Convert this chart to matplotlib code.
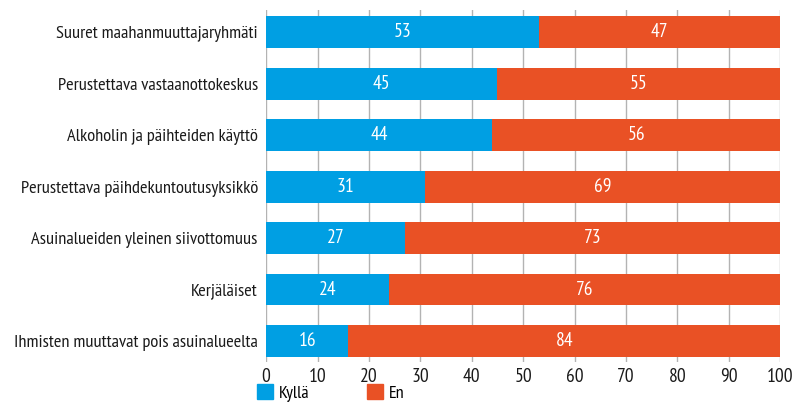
import numpy as np
import matplotlib.pyplot as plt
from matplotlib.patches import Patch

categories = ["Suuret maahanmuuttajaryhmäti",
              "Perustettava vastaanottokeskus",
              "Alkoholin ja päihteiden käyttö",
              "Perustettava päihdekuntoutusyksikkö",
              "Asuinalueiden yleinen siivottomuus",
              "Kerjäläiset",
              "Ihmisten muuttavat pois asuinalueelta"]
kylla = [53, 45, 44, 31, 27, 24, 16]
en = [47, 55, 56, 69, 73, 76, 84]
series_names = ["Kyllä", "En"]
xticks = [0, 10, 20, 30, 40, 50, 60, 70, 80, 90, 100]

blue = "#009fe3"
orange = "#e95125"
txt = "#1a1a1a"

plt.rcParams['font.family'] = ['PT Sans Narrow', 'DejaVu Sans']

fig = plt.figure(figsize=(7.92, 4.05), dpi=100)
ax = fig.add_axes([0.336, 0.106, 0.649, 0.869])

y = np.arange(len(categories))
h = 0.62
ax.barh(y, kylla, height=h, color=blue, zorder=3)
ax.barh(y, en, left=kylla, height=h, color=orange, zorder=3)

# valkoiset arvot palkkien keskelle
for i in range(len(categories)):
    ax.text(kylla[i] / 2, y[i], str(kylla[i]), color="white", ha="center", va="center", fontsize=14, zorder=4)
    ax.text(kylla[i] + en[i] / 2, y[i], str(en[i]), color="white", ha="center", va="center", fontsize=14, zorder=4)

ax.set_ylim(len(categories) - 0.59, -0.43)
ax.set_xlim(0, 100)
ax.set_yticks(y)
ax.set_yticklabels(categories, fontsize=13.2, color=txt)
ax.set_xticks(xticks)
ax.set_xticklabels([str(t) for t in xticks], fontsize=14, color=txt)
ax.tick_params(axis='y', length=0, pad=6)
ax.tick_params(axis='x', length=0, pad=4)
ax.grid(axis='x', color="#b3b3b3", linewidth=1, zorder=0)
for s in ax.spines.values():
    s.set_visible(False)

handles = [Patch(color=blue), Patch(color=orange)]
fig.legend(handles, series_names, loc="center left", bbox_to_anchor=(0.3245, 0.03), ncol=2,
           frameon=False, fontsize=13, handlelength=0.9, handleheight=0.9, handletextpad=0.3,
           columnspacing=3.2, borderpad=0, borderaxespad=0)

fig.savefig("out.png", dpi=100)
